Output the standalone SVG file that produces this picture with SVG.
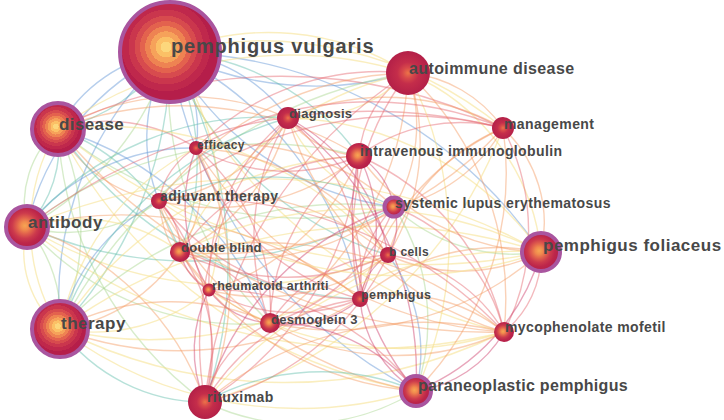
<svg xmlns="http://www.w3.org/2000/svg" width="724" height="420" viewBox="0 0 724 420">
<defs>
<radialGradient id="gA" cx="0.46" cy="0.45" r="0.52">
<stop offset="0" stop-color="#fcd77c"/><stop offset="0.1" stop-color="#fcd77c"/>
<stop offset="0.1" stop-color="#fbc066"/><stop offset="0.2" stop-color="#fbc066"/>
<stop offset="0.2" stop-color="#f6a25a"/><stop offset="0.3" stop-color="#f6a25a"/>
<stop offset="0.3" stop-color="#ee8352"/><stop offset="0.4" stop-color="#ee8352"/>
<stop offset="0.4" stop-color="#e3624e"/><stop offset="0.5" stop-color="#e3624e"/>
<stop offset="0.5" stop-color="#d74b4e"/><stop offset="0.6" stop-color="#d74b4e"/>
<stop offset="0.6" stop-color="#ca364d"/><stop offset="0.72" stop-color="#ca364d"/>
<stop offset="0.72" stop-color="#bf284c"/><stop offset="0.85" stop-color="#bf284c"/>
<stop offset="0.85" stop-color="#b51e4a"/><stop offset="1" stop-color="#b51e4a"/>
</radialGradient>
<radialGradient id="gB" cx="0.45" cy="0.47" r="0.55">
<stop offset="0" stop-color="#f7a553"/><stop offset="0.18" stop-color="#f08a4e"/>
<stop offset="0.36" stop-color="#e0604c"/><stop offset="0.55" stop-color="#cc3a4c"/>
<stop offset="0.75" stop-color="#bd264a"/><stop offset="1" stop-color="#b31e49"/>
</radialGradient>
<radialGradient id="gC" cx="0.5" cy="0.5" r="0.55">
<stop offset="0" stop-color="#ec7448"/><stop offset="0.22" stop-color="#d8494a"/>
<stop offset="0.45" stop-color="#c42d4a"/><stop offset="1" stop-color="#b01d48"/>
</radialGradient>
<style>
.e{fill:none;stroke-width:1.4;stroke-opacity:.45}
.b{stroke:#5d93d4}
.t{stroke:#5fbcab}
.g{stroke:#a6d48c}
.y{stroke:#f6e08a;stroke-opacity:.55}
.o{stroke:#f39a60}
.r{stroke:#e4646c}
.c{stroke:#cd3a68}
.ring{stroke:#a9559f;stroke-width:4}
text{font-family:"Liberation Sans",Arial,sans-serif;font-weight:bold;fill:#484848;letter-spacing:.4px}
</style>
</defs>
<rect width="724" height="420" fill="#ffffff"/>
<g id="connectors">
<path class="e y" d="M170,52 A260,260 0 0 1 408,73"/>
<path class="e b" d="M170,52 A330,330 0 0 0 408,73"/>
<path class="e b" d="M170,52 A150,150 0 0 0 58,129"/>
<path class="e t" d="M170,52 A180,180 0 0 1 58,129"/>
<path class="e b" d="M170,52 A250,250 0 0 0 27,227"/>
<path class="e g" d="M170,52 A300,300 0 0 1 27,227"/>
<path class="e b" d="M170,52 A330,330 0 0 0 60,329"/>
<path class="e t" d="M170,52 A400,400 0 0 1 60,329"/>
<path class="e b" d="M170,52 A120,120 0 0 1 196,148"/>
<path class="e b" d="M170,52 A160,160 0 0 1 288,118"/>
<path class="e b" d="M170,52 A170,170 0 0 0 159,201"/>
<path class="e t" d="M170,52 A240,240 0 0 1 180,252"/>
<path class="e t" d="M170,52 A250,250 0 0 1 359,156"/>
<path class="e b" d="M170,52 A300,300 0 0 0 394,207"/>
<path class="e b" d="M170,52 A460,460 0 0 1 541,252"/>
<path class="e y" d="M170,52 A380,380 0 0 1 503,128"/>
<path class="e t" d="M170,52 A340,340 0 0 0 388,255"/>
<path class="e b" d="M170,52 A350,350 0 0 1 360,299"/>
<path class="e b" d="M170,52 A460,460 0 0 0 416,391"/>
<path class="e t" d="M170,52 A420,420 0 0 1 205,402"/>
<path class="e y" d="M170,52 A480,480 0 0 0 504,332"/>
<path class="e g" d="M170,52 A330,330 0 0 0 270,323"/>
<path class="e y" d="M170,52 A280,280 0 0 1 209,290"/>
<path class="e g" d="M58,129 A100,100 0 0 0 27,227"/>
<path class="e t" d="M58,129 A120,120 0 0 1 27,227"/>
<path class="e y" d="M58,129 A190,190 0 0 0 60,329"/>
<path class="e g" d="M58,129 A240,240 0 0 1 60,329"/>
<path class="e r" d="M58,129 A160,160 0 0 1 196,148"/>
<path class="e o" d="M58,129 A140,140 0 0 0 159,201"/>
<path class="e t" d="M58,129 A200,200 0 0 1 180,252"/>
<path class="e o" d="M58,129 A340,340 0 0 1 359,156"/>
<path class="e g" d="M58,129 A380,380 0 0 0 394,207"/>
<path class="e y" d="M58,129 A380,380 0 0 1 388,255"/>
<path class="e t" d="M58,129 A390,390 0 0 0 360,299"/>
<path class="e o" d="M58,129 A260,260 0 0 1 288,118"/>
<path class="e y" d="M58,129 A400,400 0 0 1 408,73"/>
<path class="e r" d="M58,129 A500,500 0 0 1 503,128"/>
<path class="e y" d="M58,129 A560,560 0 0 0 541,252"/>
<path class="e g" d="M58,129 A360,360 0 0 0 205,402"/>
<path class="e y" d="M58,129 A500,500 0 0 0 416,391"/>
<path class="e b" d="M58,129 A330,330 0 0 1 270,323"/>
<path class="e o" d="M58,129 A560,560 0 0 0 504,332"/>
<path class="e y" d="M27,227 A100,100 0 0 0 60,329"/>
<path class="e g" d="M27,227 A140,140 0 0 1 60,329"/>
<path class="e b" d="M27,227 A210,210 0 0 1 196,148"/>
<path class="e g" d="M27,227 A150,150 0 0 0 159,201"/>
<path class="e g" d="M27,227 A380,380 0 0 1 359,156"/>
<path class="e t" d="M27,227 A410,410 0 0 0 394,207"/>
<path class="e y" d="M27,227 A400,400 0 0 0 388,255"/>
<path class="e o" d="M27,227 A380,380 0 0 1 360,299"/>
<path class="e y" d="M27,227 A170,170 0 0 1 180,252"/>
<path class="e o" d="M27,227 A280,280 0 0 1 205,402"/>
<path class="e y" d="M27,227 A580,580 0 0 1 541,252"/>
<path class="e g" d="M27,227 A290,290 0 0 0 270,323"/>
<path class="e y" d="M27,227 A550,550 0 0 0 504,332"/>
<path class="e t" d="M27,227 A310,310 0 0 1 288,118"/>
<path class="e r" d="M27,227 A560,560 0 0 1 503,128"/>
<path class="e t" d="M60,329 A180,180 0 0 0 205,402"/>
<path class="e y" d="M60,329 A400,400 0 0 0 416,391"/>
<path class="e y" d="M60,329 A260,260 0 0 1 196,148"/>
<path class="e b" d="M60,329 A190,190 0 0 1 159,201"/>
<path class="e o" d="M60,329 A170,170 0 0 0 180,252"/>
<path class="e y" d="M60,329 A380,380 0 0 1 359,156"/>
<path class="e g" d="M60,329 A390,390 0 0 1 394,207"/>
<path class="e y" d="M60,329 A380,380 0 0 0 388,255"/>
<path class="e o" d="M60,329 A340,340 0 0 0 360,299"/>
<path class="e y" d="M60,329 A500,500 0 0 0 504,332"/>
<path class="e y" d="M60,329 A540,540 0 0 1 541,252"/>
<path class="e o" d="M60,329 A240,240 0 0 1 270,323"/>
<path class="e y" d="M60,329 A180,180 0 0 0 209,290"/>
<path class="e g" d="M60,329 A480,480 0 0 1 408,73"/>
<path class="e t" d="M60,329 A340,340 0 0 1 288,118"/>
<path class="e o" d="M408,73 A130,130 0 0 1 503,128"/>
<path class="e r" d="M408,73 A110,110 0 0 0 359,156"/>
<path class="e o" d="M408,73 A160,160 0 0 1 394,207"/>
<path class="e y" d="M408,73 A220,220 0 0 1 541,252"/>
<path class="e o" d="M408,73 A310,310 0 0 1 504,332"/>
<path class="e r" d="M408,73 A270,270 0 0 0 360,299"/>
<path class="e o" d="M408,73 A210,210 0 0 1 388,255"/>
<path class="e o" d="M408,73 A320,320 0 0 0 159,201"/>
<path class="e y" d="M408,73 A150,150 0 0 1 288,118"/>
<path class="e r" d="M408,73 A260,260 0 0 0 196,148"/>
<path class="e y" d="M408,73 A330,330 0 0 0 180,252"/>
<path class="e y" d="M408,73 A360,360 0 0 1 416,391"/>
<path class="e r" d="M408,73 A440,440 0 0 0 205,402"/>
<path class="e o" d="M408,73 A320,320 0 0 1 270,323"/>
<path class="e r" d="M288,118 A210,210 0 0 1 360,299"/>
<path class="e r" d="M288,118 A230,230 0 0 0 270,323"/>
<path class="e r" d="M288,118 A330,330 0 0 0 205,402"/>
<path class="e c" d="M288,118 A190,190 0 0 1 388,255"/>
<path class="e o" d="M288,118 A95,95 0 0 0 359,156"/>
<path class="e c" d="M288,118 A320,320 0 0 1 416,391"/>
<path class="e o" d="M288,118 A240,240 0 0 1 503,128"/>
<path class="e o" d="M288,118 A320,320 0 0 0 504,332"/>
<path class="e o" d="M288,118 A180,180 0 0 1 159,201"/>
<path class="e r" d="M288,118 A210,210 0 0 0 209,290"/>
<path class="e o" d="M288,118 A200,200 0 0 1 180,252"/>
<path class="e y" d="M288,118 A160,160 0 0 0 394,207"/>
<path class="e y" d="M288,118 A320,320 0 0 1 541,252"/>
<path class="e r" d="M196,148 A75,75 0 0 0 159,201"/>
<path class="e o" d="M196,148 A120,120 0 0 1 180,252"/>
<path class="e r" d="M196,148 A185,185 0 0 0 359,156"/>
<path class="e o" d="M196,148 A250,250 0 0 1 388,255"/>
<path class="e r" d="M196,148 A240,240 0 0 0 360,299"/>
<path class="e o" d="M196,148 A290,290 0 0 1 205,402"/>
<path class="e r" d="M196,148 A350,350 0 0 1 503,128"/>
<path class="e o" d="M196,148 A230,230 0 0 1 394,207"/>
<path class="e r" d="M196,148 A210,210 0 0 1 270,323"/>
<path class="e o" d="M196,148 A390,390 0 0 0 504,332"/>
<path class="e c" d="M196,148 A160,160 0 0 0 209,290"/>
<path class="e o" d="M503,128 A130,130 0 0 1 541,252"/>
<path class="e o" d="M503,128 A260,260 0 0 0 360,299"/>
<path class="e o" d="M503,128 A310,310 0 0 1 416,391"/>
<path class="e r" d="M503,128 A220,220 0 0 1 504,332"/>
<path class="e r" d="M503,128 A170,170 0 0 0 359,156"/>
<path class="e o" d="M503,128 A160,160 0 0 1 394,207"/>
<path class="e o" d="M503,128 A200,200 0 0 0 388,255"/>
<path class="e r" d="M503,128 A400,400 0 0 0 159,201"/>
<path class="e o" d="M503,128 A390,390 0 0 1 180,252"/>
<path class="e y" d="M503,128 A450,450 0 0 1 205,402"/>
<path class="e c" d="M359,156 A75,75 0 0 1 394,207"/>
<path class="e r" d="M359,156 A120,120 0 0 0 388,255"/>
<path class="e c" d="M359,156 A160,160 0 0 1 360,299"/>
<path class="e r" d="M359,156 A210,210 0 0 0 270,323"/>
<path class="e r" d="M359,156 A320,320 0 0 1 205,402"/>
<path class="e c" d="M359,156 A270,270 0 0 0 416,391"/>
<path class="e o" d="M359,156 A230,230 0 0 0 541,252"/>
<path class="e r" d="M359,156 A250,250 0 0 1 504,332"/>
<path class="e o" d="M359,156 A230,230 0 0 1 159,201"/>
<path class="e r" d="M359,156 A230,230 0 0 0 180,252"/>
<path class="e o" d="M359,156 A230,230 0 0 1 209,290"/>
<path class="e c" d="M394,207 A60,60 0 0 1 388,255"/>
<path class="e r" d="M394,207 A115,115 0 0 0 360,299"/>
<path class="e g" d="M394,207 A210,210 0 0 1 416,391"/>
<path class="e g" d="M394,207 A175,175 0 0 0 541,252"/>
<path class="e r" d="M394,207 A180,180 0 0 1 504,332"/>
<path class="e r" d="M394,207 A190,190 0 0 1 270,323"/>
<path class="e t" d="M394,207 A270,270 0 0 0 159,201"/>
<path class="e o" d="M394,207 A250,250 0 0 1 180,252"/>
<path class="e c" d="M394,207 A290,290 0 0 0 205,402"/>
<path class="e c" d="M388,255 A65,65 0 0 0 360,299"/>
<path class="e b" d="M388,255 A160,160 0 0 1 416,391"/>
<path class="e o" d="M388,255 A175,175 0 0 0 541,252"/>
<path class="e r" d="M388,255 A160,160 0 0 1 504,332"/>
<path class="e r" d="M388,255 A150,150 0 0 0 270,323"/>
<path class="e o" d="M388,255 A260,260 0 0 0 159,201"/>
<path class="e r" d="M388,255 A240,240 0 0 1 180,252"/>
<path class="e o" d="M388,255 A210,210 0 0 1 209,290"/>
<path class="e r" d="M388,255 A270,270 0 0 1 205,402"/>
<path class="e r" d="M541,252 A100,100 0 0 1 504,332"/>
<path class="e c" d="M541,252 A210,210 0 0 1 416,391"/>
<path class="e o" d="M541,252 A210,210 0 0 0 360,299"/>
<path class="e y" d="M541,252 A400,400 0 0 0 180,252"/>
<path class="e y" d="M541,252 A430,430 0 0 1 159,201"/>
<path class="e y" d="M541,252 A400,400 0 0 0 205,402"/>
<path class="e o" d="M541,252 A310,310 0 0 1 270,323"/>
<path class="e c" d="M504,332 A120,120 0 0 1 416,391"/>
<path class="e o" d="M504,332 A170,170 0 0 0 360,299"/>
<path class="e o" d="M504,332 A260,260 0 0 1 270,323"/>
<path class="e o" d="M504,332 A340,340 0 0 0 205,402"/>
<path class="e r" d="M504,332 A420,420 0 0 0 159,201"/>
<path class="e o" d="M504,332 A370,370 0 0 0 180,252"/>
<path class="e y" d="M504,332 A340,340 0 0 1 209,290"/>
<path class="e c" d="M360,299 A120,120 0 0 0 416,391"/>
<path class="e c" d="M360,299 A105,105 0 0 1 270,323"/>
<path class="e r" d="M360,299 A210,210 0 0 0 205,402"/>
<path class="e r" d="M360,299 A170,170 0 0 1 209,290"/>
<path class="e o" d="M360,299 A210,210 0 0 0 180,252"/>
<path class="e r" d="M360,299 A250,250 0 0 1 159,201"/>
<path class="e r" d="M270,323 A115,115 0 0 0 205,402"/>
<path class="e c" d="M270,323 A180,180 0 0 1 416,391"/>
<path class="e o" d="M270,323 A175,175 0 0 1 159,201"/>
<path class="e r" d="M270,323 A125,125 0 0 0 180,252"/>
<path class="e c" d="M270,323 A80,80 0 0 1 209,290"/>
<path class="e r" d="M159,201 A65,65 0 0 1 180,252"/>
<path class="e o" d="M159,201 A120,120 0 0 0 209,290"/>
<path class="e r" d="M159,201 A230,230 0 0 1 205,402"/>
<path class="e o" d="M159,201 A360,360 0 0 0 416,391"/>
<path class="e c" d="M180,252 A60,60 0 0 0 209,290"/>
<path class="e r" d="M180,252 A170,170 0 0 1 205,402"/>
<path class="e o" d="M180,252 A310,310 0 0 0 416,391"/>
<path class="e c" d="M209,290 A130,130 0 0 0 205,402"/>
<path class="e r" d="M209,290 A250,250 0 0 1 416,391"/>
<path class="e t" d="M205,402 A240,240 0 0 1 416,391"/>
<path class="e g" d="M205,402 A220,220 0 0 0 416,391"/>
</g>
<g id="n-pv"><circle cx="170" cy="52" r="50" fill="url(#gA)" class="ring"/><text x="171" y="53" font-size="20" style="letter-spacing:.8px">pemphigus vulgaris</text></g>
<g id="n-ad"><circle cx="408" cy="73" r="22" fill="url(#gC)"/><text x="409" y="74" font-size="16">autoimmune disease</text></g>
<g id="n-dis"><circle cx="58" cy="129" r="26" fill="url(#gA)" class="ring"/><text x="59" y="130" font-size="17">disease</text></g>
<g id="n-eff"><circle cx="196" cy="148" r="7" fill="url(#gC)"/><text x="197" y="149" font-size="12">efficacy</text></g>
<g id="n-dia"><circle cx="288" cy="118" r="11" fill="url(#gC)"/><text x="289" y="118" font-size="13" style="letter-spacing:.3px">diagnosis</text></g>
<g id="n-man"><circle cx="503" cy="128" r="11" fill="url(#gC)"/><text x="504" y="129" font-size="14">management</text></g>
<g id="n-ivig"><circle cx="359" cy="156" r="13" fill="url(#gB)"/><text x="360" y="156" font-size="14">intravenous immunoglobulin</text></g>
<g id="n-sle"><circle cx="394" cy="207" r="9.5" fill="url(#gB)" class="ring"/><text x="395" y="208" font-size="14">systemic lupus erythematosus</text></g>
<g id="n-adj"><circle cx="159" cy="201" r="8" fill="url(#gC)"/><text x="160" y="201" font-size="14">adjuvant therapy</text></g>
<g id="n-db"><circle cx="180" cy="252" r="10" fill="url(#gB)"/><text x="181" y="252" font-size="13" style="letter-spacing:.3px">double blind</text></g>
<g id="n-ra"><circle cx="209" cy="290" r="6.5" fill="url(#gB)"/><text x="212" y="290" font-size="12.5" style="letter-spacing:.3px">rheumatoid arthriti</text></g>
<g id="n-bc"><circle cx="388" cy="255" r="8" fill="url(#gC)"/><text x="389" y="256" font-size="12">b cells</text></g>
<g id="n-pf"><circle cx="541" cy="252" r="19" fill="url(#gB)" class="ring"/><text x="543" y="251" font-size="17" style="letter-spacing:.5px">pemphigus foliaceus</text></g>
<g id="n-ant"><circle cx="27" cy="227" r="21" fill="url(#gB)" class="ring"/><text x="28" y="228" font-size="17" style="letter-spacing:.5px">antibody</text></g>
<g id="n-the"><circle cx="60" cy="329" r="28" fill="url(#gA)" class="ring"/><text x="61" y="329" font-size="17" style="letter-spacing:.5px">therapy</text></g>
<g id="n-rit"><circle cx="205" cy="402" r="17" fill="url(#gC)"/><text x="207" y="402" font-size="14">rituximab</text></g>
<g id="n-pnp"><circle cx="416" cy="391" r="15" fill="url(#gB)" class="ring"/><text x="418" y="391" font-size="16" style="letter-spacing:.3px">paraneoplastic pemphigus</text></g>
<g id="n-mmf"><circle cx="504" cy="332" r="10" fill="url(#gB)"/><text x="505" y="332" font-size="14">mycophenolate mofetil</text></g>
<g id="n-pem"><circle cx="360" cy="299" r="8" fill="url(#gC)"/><text x="361" y="299" font-size="12.5">pemphigus</text></g>
<g id="n-dsg"><circle cx="270" cy="323" r="10" fill="url(#gB)"/><text x="271" y="324" font-size="13" style="letter-spacing:.3px">desmoglein 3</text></g>
</svg>
